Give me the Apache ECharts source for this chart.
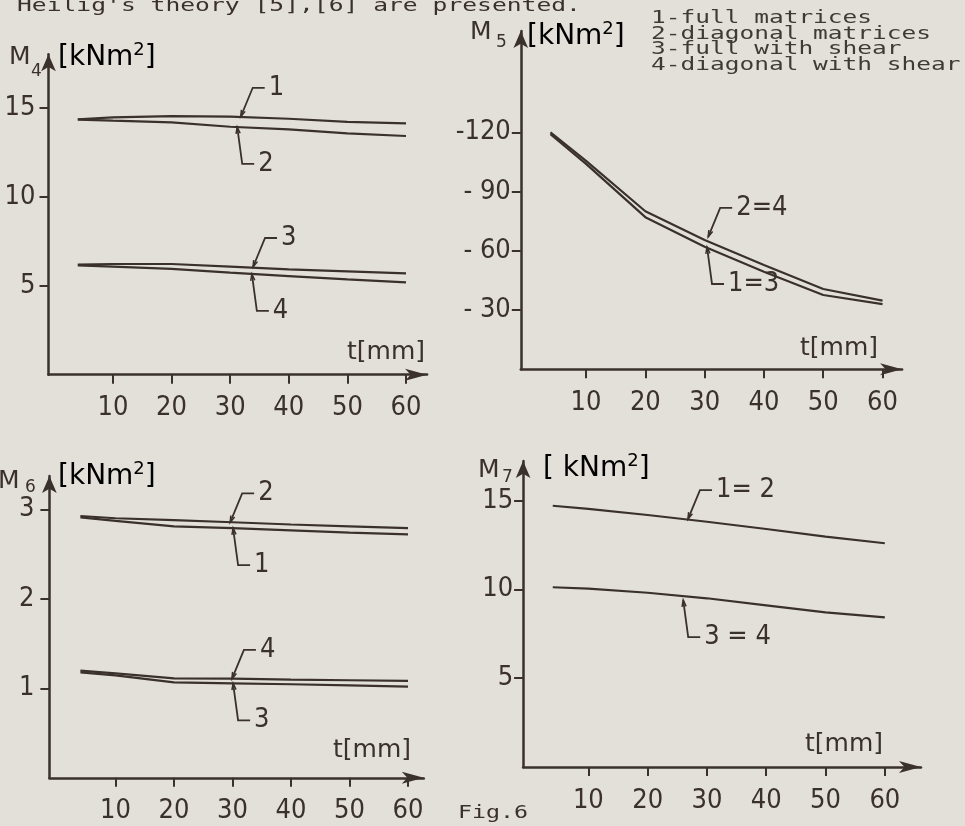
<!DOCTYPE html>
<html>
<head>
<meta charset="utf-8">
<script src="https://cdn.jsdelivr.net/npm/echarts@6/dist/echarts.min.js"></script>
<style>
  html, body { margin: 0; padding: 0; background: #e3e0d9; }
  #chart { width: 965px; height: 826px; }
</style>
</head>
<body>
<div id="chart"></div>
<script>
// Plate thickness t [mm] at which the stiffnesses were computed
const tValues = [4, 10, 20, 30, 40, 50, 60];
const tTicks = [10, 20, 30, 40, 50, 60];

// M4 [kNm^2]
const m4Full         = [14.35, 14.46, 14.53, 14.50, 14.38, 14.20, 14.12];
const m4Diagonal     = [14.33, 14.27, 14.18, 13.93, 13.78, 13.56, 13.41];
const m4FullShear    = [6.18, 6.22, 6.22, 6.07, 5.92, 5.81, 5.69];
const m4DiagShear    = [6.14, 6.07, 5.94, 5.73, 5.54, 5.36, 5.19];
const m4Ticks = [5, 10, 15];

// M5 [kNm^2] (negative values)
const m5Diag24 = [-120, -105.5, -80, -65.4, -52.8, -40.6, -34.7];
const m5Full13 = [-119, -104, -77, -62, -49.4, -37.6, -33];
const m5Ticks = [-120, -90, -60, -30];

// M6 [kNm^2]
const m6Diagonal  = [2.925, 2.90, 2.88, 2.855, 2.83, 2.81, 2.79];
const m6Full      = [2.91, 2.87, 2.81, 2.79, 2.765, 2.74, 2.72];
const m6DiagShear = [1.197, 1.167, 1.11, 1.107, 1.097, 1.09, 1.082];
const m6FullShear = [1.178, 1.145, 1.067, 1.056, 1.045, 1.033, 1.018];
const m6Ticks = [1, 2, 3];

// M7 [kNm^2]
const m7Plain = [14.71, 14.53, 14.19, 13.81, 13.40, 12.97, 12.6];
const m7Shear = [10.12, 10.04, 9.81, 9.50, 9.10, 8.71, 8.43];
const m7Ticks = [5, 10, 15];

// Curve callouts: [t, value on curve, text, leader direction]
const m4Notes = [[31.8, 14.49, '1', 'up'], [31.2, 13.92, '2', 'down'], [33.9, 6.05, '3', 'up'], [33.7, 5.66, '4', 'down']];
const m5Notes = [[30.6, -67.0, '2=4', 'up'], [30.4, -61.9, '1=3', 'down']];
const m6Notes = [[29.6, 2.853, '2', 'up'], [30.1, 2.79, '1', 'down'], [29.9, 1.106, '4', 'up'], [30.1, 1.056, '3', 'down']];
const m7Notes = [[26.8, 13.96, '1= 2', 'up'], [26.0, 9.40, '3 = 4', 'down']];

const legendLines = ['1-full matrices', '2-diagonal matrices', '3-full with shear', '4-diagonal with shear'];

const ink = '#3a302c';
const numFont = "'DejaVu Sans Condensed', 'Liberation Sans Narrow', sans-serif";
const sansFont = "'DejaVu Sans', sans-serif";
const monoFont = "'DejaVu Sans Mono', 'Liberation Mono', monospace";

// Grid placement for the four panels
const panels = [
  { grid: { left: 48.5, right: 537.9, top: 54.3, bottom: 451.3 }, x: [-1, 63.6], y: [0, 18],     yTicks: m4Ticks, yMargin: 13 },
  { grid: { left: 520.8, right: 62.9, top: 31, bottom: 456.8 },   x: [-1, 63.3], y: [-171.3, 0], yTicks: m5Ticks, yMargin: 10, inverse: true },
  { grid: { left: 49.4, right: 541.2, top: 476, bottom: 48.2 },   x: [-1.3, 62.7], y: [0, 3.372], yTicks: m6Ticks, yMargin: 15 },
  { grid: { left: 523.1, right: 44, top: 461, bottom: 59 },       x: [-1, 66.1], y: [0, 17.23],  yTicks: m7Ticks, yMargin: 10 }
];

function pairs(values) { return tValues.map((t, i) => [t, values[i]]); }

function curve(idx, values) {
  return {
    type: 'line', xAxisIndex: idx, yAxisIndex: idx, data: pairs(values),
    showSymbol: false, silent: true, smooth: false,
    lineStyle: { color: ink, width: 2.2 }
  };
}

function notes(idx, list) {
  return {
    type: 'custom', xAxisIndex: idx, yAxisIndex: idx, silent: true, z: 5,
    data: list.map(n => [n[0], n[1]]),
    renderItem: function (params, api) {
      const n = list[params.dataIndex];
      const p = api.coord([api.value(0), api.value(1)]);
      const up = n[3] === 'up';
      const b = [p[0] + (up ? 12 : 5), p[1] + (up ? -29 : 37)];
      const e = [b[0] + 12, b[1]];
      const dx = b[0] - p[0], dy = b[1] - p[1];
      const len = Math.sqrt(dx * dx + dy * dy);
      const ux = dx / len, uy = dy / len;
      const wing = (a) => [p[0] + 7 * (ux * Math.cos(a) - uy * Math.sin(a)), p[1] + 7 * (ux * Math.sin(a) + uy * Math.cos(a))];
      return {
        type: 'group',
        children: [
          { type: 'polyline', shape: { points: [p, b, e] }, style: { stroke: ink, lineWidth: 1.8, fill: null } },
          { type: 'polyline', shape: { points: [wing(0.3), p, wing(-0.3)] }, style: { stroke: ink, lineWidth: 1.5, fill: null } },
          { type: 'text', x: e[0] + 4, y: e[1], style: { text: n[2], fill: ink, font: '27px ' + numFont, verticalAlign: 'middle' } }
        ]
      };
    }
  };
}

const grids = panels.map(p => Object.assign({ containLabel: false, outerBoundsMode: 'none' }, p.grid));

const xAxes = panels.map((p, i) => ({
  type: 'value', gridIndex: i, min: p.x[0], max: p.x[1],
  axisLine: { onZero: false, symbol: ['none', 'arrow'], symbolSize: [9, 22], lineStyle: { color: ink, width: 2.5 } },
  axisTick: { customValues: tTicks, length: 9, lineStyle: { color: ink, width: 2 } },
  axisLabel: { customValues: tTicks, margin: 20, color: ink, fontFamily: numFont, fontSize: 27 },
  splitLine: { show: false }
}));

const yAxes = panels.map((p, i) => ({
  type: 'value', gridIndex: i, min: p.y[0], max: p.y[1], inverse: !!p.inverse,
  axisLine: { onZero: false, symbol: ['none', 'arrow'], symbolSize: [11, 17], lineStyle: { color: ink, width: 2.5 } },
  axisTick: { customValues: p.yTicks, length: 9, lineStyle: { color: ink, width: 2 } },
  axisLabel: {
    customValues: p.yTicks, margin: p.yMargin, color: ink, fontFamily: numFont, fontSize: 27,
    formatter: v => (v < 0 ? (v <= -100 ? '-' + (-v) : '- ' + (-v)) : String(v))
  },
  splitLine: { show: false }
}));

function label(x, y, text, size, family, extra, align) {
  return Object.assign({ type: 'text', x: x, y: y, silent: true,
    style: { text: text, fill: ink, font: size + 'px ' + family, verticalAlign: align || 'middle' } }, extra || {});
}

function unitText(x, y, open) {
  return {
    type: 'text', x: x, y: y, silent: true,
    style: {
      text: '{u|' + open + '}{s|2}{u|]}',
      verticalAlign: 'middle',
      rich: {
        u: { fontSize: 28, fontFamily: sansFont, color: ink, lineHeight: 34 },
        s: { fontSize: 18, fontFamily: sansFont, color: ink, verticalAlign: 'top', lineHeight: 20 }
      }
    }
  };
}

const graphics = [
  label(17, 7, "Heilig's theory [5],[6] are presented.", 17, monoFont, { scaleX: 1.45 }),
  { type: 'text', x: 651, y: 11, scaleX: 1.44, silent: true,
    style: { text: legendLines.join('\n'), fill: '#403a36', font: '17px ' + monoFont, lineHeight: 15.5, verticalAlign: 'top' } },
  label(458, 814, 'Fig.6', 17, monoFont, { scaleX: 1.37 }),
  // panel titles
  label(9, 57, 'M', 25, sansFont), label(31, 72, '4', 17, sansFont), unitText(58, 58, '[kNm'),
  label(470, 32, 'M', 25, sansFont), label(496, 43, '5', 17, sansFont), unitText(527, 37, '[kNm'),
  label(-2, 481, 'M', 25, sansFont), label(25, 488, '6', 17, sansFont), unitText(58, 477, '[kNm'),
  label(478, 470, 'M', 25, sansFont), label(502, 478, '7', 17, sansFont), unitText(543, 469, '[ kNm'),
  // abscissa names
  label(347, 352, 't[mm]', 25, sansFont),
  label(800, 348, 't[mm]', 25, sansFont),
  label(333, 750, 't[mm]', 25, sansFont),
  label(805, 744, 't[mm]', 25, sansFont)
];

const chart = echarts.init(document.getElementById('chart'), null, { renderer: 'canvas' });
chart.setOption({
  backgroundColor: '#e3e0d9',
  animation: false,
  grid: grids,
  xAxis: xAxes,
  yAxis: yAxes,
  series: [
    curve(0, m4Full), curve(0, m4Diagonal), curve(0, m4FullShear), curve(0, m4DiagShear),
    curve(1, m5Diag24), curve(1, m5Full13),
    curve(2, m6Diagonal), curve(2, m6Full), curve(2, m6DiagShear), curve(2, m6FullShear),
    curve(3, m7Plain), curve(3, m7Shear),
    notes(0, m4Notes), notes(1, m5Notes), notes(2, m6Notes), notes(3, m7Notes)
  ],
  graphic: graphics
});
</script>
</body>
</html>
